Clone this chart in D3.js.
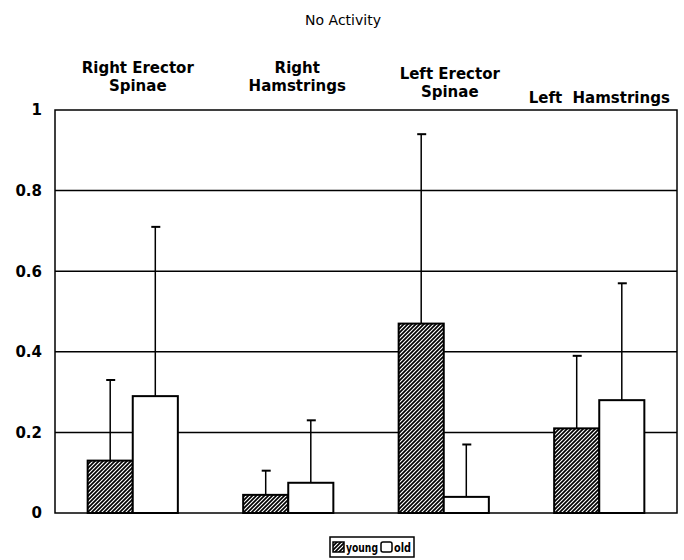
<!DOCTYPE html>
<html>
<head>
<meta charset="utf-8">
<script src="https://cdn.jsdelivr.net/npm/d3@7"></script>
<style>
  html, body { margin: 0; padding: 0; background: #fff; }
  svg { display: block; }
  text { font-family: "DejaVu Sans", "Liberation Sans", Arial, sans-serif; fill: #000; }
</style>
</head>
<body>
<svg id="chart" width="684" height="560"></svg>
<script>
const title = "No Activity";
const groups = ["Right Erector Spinae", "Right Hamstrings", "Left Erector Spinae", "Left Hamstrings"];
const groupLabelLines = [["Right Erector", "Spinae"], ["Right", "Hamstrings"], ["Left Erector", "Spinae"], ["Left  Hamstrings"]];
const seriesNames = ["young", "old"];
const youngMean = [0.13, 0.045, 0.47, 0.21];
const youngErr  = [0.33, 0.105, 0.94, 0.39];
const oldMean   = [0.29, 0.075, 0.04, 0.28];
const oldErr    = [0.71, 0.23, 0.17, 0.57];
const yTicks = [0, 0.2, 0.4, 0.6, 0.8, 1];
const yTickLabels = ["0", "0.2", "0.4", "0.6", "0.8", "1"];

const svg = d3.select("#chart");
const M = {left: 55, right: 677, top: 110, bottom: 513};

const defs = svg.append("defs");
const pat = defs.append("pattern")
  .attr("id", "hatch").attr("patternUnits", "userSpaceOnUse")
  .attr("width", 4).attr("height", 4);
pat.append("rect").attr("width", 4).attr("height", 4).attr("fill", "#fff");
pat.append("path").attr("d", "M-1,1 l2,-2 M0,4 l4,-4 M3,5 l2,-2")
  .attr("stroke", "#000").attr("stroke-width", 1.7);

const x0 = d3.scaleBand().domain(groups).range([M.left, M.right]).paddingInner(0.42).paddingOuter(0.21);
const x1 = d3.scaleBand().domain(seriesNames).range([0, x0.bandwidth()]);
const y = d3.scaleLinear().domain([0, 1]).range([M.bottom, M.top]);

// title
svg.append("text").attr("x", 343).attr("y", 25).attr("text-anchor", "middle")
  .attr("font-size", 14).attr("textLength", 76).attr("lengthAdjust", "spacingAndGlyphs")
  .text(title);

// group labels
const labelDx = [5, 9, 6, 0];
const labelBaseY = [73, 73, 79, 103];
groups.forEach((g, i) => {
  const lines = groupLabelLines[i];
  const cx = x0(g) + x0.bandwidth() / 2 + labelDx[i];
  lines.forEach((ln, j) => {
    svg.append("text").attr("x", cx).attr("y", labelBaseY[i] + j * 18)
      .attr("text-anchor", "middle").attr("font-size", 15).attr("font-weight", "bold")
      .attr("xml:space", "preserve").style("white-space", "pre").text(ln);
  });
});

// gridlines
svg.append("g").selectAll("line").data(yTicks.filter(t => t > 0 && t < 1)).join("line")
  .attr("x1", M.left).attr("x2", M.right).attr("y1", d => y(d)).attr("y2", d => y(d))
  .attr("stroke", "#000").attr("stroke-width", 1.5);

// y axis labels
const yAxis = d3.axisLeft(y).tickValues(yTicks).tickSize(0).tickPadding(13)
  .tickFormat((d, i) => yTickLabels[i]);
const gy = svg.append("g").attr("transform", `translate(${M.left},0)`).call(yAxis);
gy.select(".domain").remove();
gy.selectAll("text").attr("font-size", 15).attr("font-weight", "bold")
  .attr("font-family", "DejaVu Sans, Liberation Sans, Arial, sans-serif").attr("fill", "#000");

// data
const data = groups.map((g, i) => [
  {g, s: "young", v: youngMean[i], e: youngErr[i]},
  {g, s: "old", v: oldMean[i], e: oldErr[i]}
]).flat();

// error bars
const eb = svg.append("g");
data.forEach(d => {
  const cx = x0(d.g) + x1(d.s) + x1.bandwidth() / 2;
  eb.append("line").attr("x1", cx).attr("x2", cx).attr("y1", y(d.v)).attr("y2", y(d.e))
    .attr("stroke", "#000").attr("stroke-width", 1.5);
  eb.append("line").attr("x1", cx - 4).attr("x2", cx + 5).attr("y1", y(d.e)).attr("y2", y(d.e))
    .attr("stroke", "#000").attr("stroke-width", 2);
});

// bars
svg.append("g").selectAll("rect").data(data).join("rect")
  .attr("x", d => x0(d.g) + x1(d.s))
  .attr("y", d => y(d.v))
  .attr("width", x1.bandwidth())
  .attr("height", d => y(0) - y(d.v))
  .attr("fill", d => d.s === "young" ? "url(#hatch)" : "#fff")
  .attr("stroke", "#000").attr("stroke-width", 2);

// frame
svg.append("rect").attr("x", M.left).attr("y", M.top)
  .attr("width", M.right - M.left).attr("height", M.bottom - M.top)
  .attr("fill", "none").attr("stroke", "#000").attr("stroke-width", 1.5);

// legend
const lg = svg.append("g").attr("transform", "translate(330,537)");
lg.append("rect").attr("width", 84).attr("height", 20).attr("fill", "#fff")
  .attr("stroke", "#000").attr("stroke-width", 1.5);
const items = [{s: "young", x: 3, tx: 16, w: 32}, {s: "old", x: 51, tx: 64, w: 17}];
items.forEach(it => {
  lg.append("rect").attr("x", it.x).attr("y", 5).attr("width", 11).attr("height", 10)
    .attr("fill", it.s === "young" ? "url(#hatch)" : "#fff")
    .attr("stroke", "#000").attr("stroke-width", 1.5).attr("rx", it.s === "old" ? 2 : 0);
  lg.append("text").attr("x", it.tx).attr("y", 15).attr("font-size", 13)
    .attr("font-family", "Liberation Sans, Arial, sans-serif")
    .attr("font-weight", "bold").attr("textLength", it.w).attr("lengthAdjust", "spacingAndGlyphs")
    .text(it.s);
});
</script>
</body>
</html>
